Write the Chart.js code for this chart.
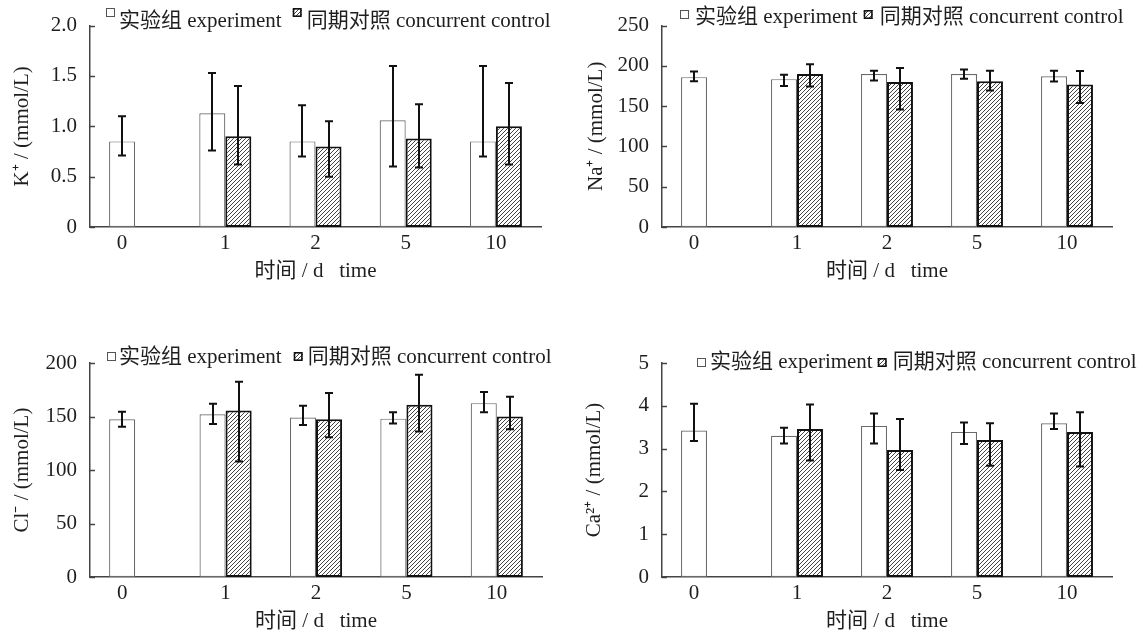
<!DOCTYPE html>
<html><head><meta charset="utf-8">
<script src="https://cdn.jsdelivr.net/npm/chart.js@4.4.0/dist/chart.umd.min.js"></script>
<style>
html,body{margin:0;padding:0;background:#fff;width:1143px;height:634px;overflow:hidden;}
.p{position:absolute;}
</style></head><body>
<div class="p" style="left:0;top:0;width:571px;height:317px"><canvas id="c1"></canvas></div>
<div class="p" style="left:571px;top:0;width:572px;height:317px"><canvas id="c2"></canvas></div>
<div class="p" style="left:0;top:317px;width:571px;height:317px"><canvas id="c3"></canvas></div>
<div class="p" style="left:571px;top:317px;width:572px;height:317px"><canvas id="c4"></canvas></div>
<script>
const categories = ['0', '1', '2', '5', '10'];
const legendExp = '实验组 experiment';
const legendCtl = '同期对照 concurrent control';
const xTitle = '时间 / d   time';

// K+ (mmol/L)
const kExpMean = [0.85, 1.13, 0.85, 1.06, 0.85];
const kExpLow  = [0.71, 0.76, 0.70, 0.60, 0.70];
const kExpHigh = [1.10, 1.53, 1.21, 1.60, 1.60];
const kCtlMean = [null, 0.90, 0.80, 0.88, 1.00];
const kCtlLow  = [null, 0.62, 0.50, 0.59, 0.62];
const kCtlHigh = [null, 1.40, 1.05, 1.22, 1.43];
const kTicks = ['0', '0.5', '1.0', '1.5', '2.0'];

// Na+ (mmol/L)
const naExpMean = [186, 183.5, 190, 190, 187];
const naExpLow  = [181, 175, 182, 184, 180.5];
const naExpHigh = [193, 189, 194, 195.5, 194];
const naCtlMean = [null, 190, 180, 181, 177];
const naCtlLow  = [null, 174.5, 146, 169.5, 154];
const naCtlHigh = [null, 202, 197.5, 194, 193.5];
const naTicks = ['0', '50', '100', '150', '200', '250'];

// Cl- (mmol/L)
const clExpMean = [147.5, 152, 149, 148, 162.5];
const clExpLow  = [140.5, 143, 142, 143.5, 154];
const clExpHigh = [154.5, 162, 160, 154, 173];
const clCtlMean = [null, 155.5, 147.5, 161, 150];
const clCtlLow  = [null, 108, 130.5, 136, 138];
const clCtlHigh = [null, 182.5, 172, 189, 168.5];
const clTicks = ['0', '50', '100', '150', '200'];

// Ca2+ (mmol/L)
const caExpMean = [3.42, 3.30, 3.53, 3.39, 3.59];
const caExpLow  = [3.18, 3.12, 3.12, 3.11, 3.46];
const caExpHigh = [4.05, 3.49, 3.82, 3.61, 3.82];
const caCtlMean = [null, 3.46, 2.97, 3.20, 3.39];
const caCtlLow  = [null, 2.72, 2.50, 2.60, 2.58];
const caCtlHigh = [null, 4.03, 3.69, 3.59, 3.85];
const caTicks = ['0', '1', '2', '3', '4', '5'];

const FONT = '"Liberation Serif", "Noto Sans CJK SC", serif';
const TEXT = '#1e1e1e';
const AXIS = '#444';

function makeHatch() {
  const s = 4;
  const c = document.createElement('canvas'); c.width = s; c.height = s;
  const g = c.getContext('2d');
  g.fillStyle = '#fff'; g.fillRect(0, 0, s, s);
  g.strokeStyle = '#444'; g.lineWidth = 1;
  g.beginPath();
  g.moveTo(0, s); g.lineTo(s, 0);
  g.moveTo(-1, 1); g.lineTo(1, -1);
  g.moveTo(s - 1, s + 1); g.lineTo(s + 1, s - 1);
  g.stroke();
  return g.createPattern(c, 'repeat');
}
const hatch = makeHatch();

const panels = [
  { id: 'c1', W: 571, H: 317, area: { l: 90, r: 541, t: 25, b: 227 }, max: 2, step: 0.5, ticks: kTicks,
    exp: kExpMean, expLo: kExpLow, expHi: kExpHigh, ctl: kCtlMean, ctlLo: kCtlLow, ctlHi: kCtlHigh,
    yTitle: 'K⁺ / (mmol/L)', yTitleX: 22,
    leg: { x: 106, y: 21, boxTop: 8, gap0: 4, gap1: 11, gap2: 5 } },
  { id: 'c2', W: 572, H: 317, area: { l: 91, r: 541, t: 25, b: 227 }, max: 250, step: 50, ticks: naTicks,
    exp: naExpMean, expLo: naExpLow, expHi: naExpHigh, ctl: naCtlMean, ctlLo: naCtlLow, ctlHi: naCtlHigh,
    yTitle: 'Na⁺ / (mmol/L)', yTitleX: 25,
    leg: { x: 109, y: 17, boxTop: 10, gap0: 6, gap1: 6, gap2: 7 } },
  { id: 'c3', W: 571, H: 317, area: { l: 90, r: 542, t: 46, b: 260 }, max: 200, step: 50, ticks: clTicks,
    exp: clExpMean, expLo: clExpLow, expHi: clExpHigh, ctl: clCtlMean, ctlLo: clCtlLow, ctlHi: clCtlHigh,
    yTitle: 'Cl⁻ / (mmol/L)', yTitleX: 22,
    leg: { x: 107, y: 40, boxTop: 35, gap0: 3, gap1: 12, gap2: 5 } },
  { id: 'c4', W: 572, H: 317, area: { l: 91, r: 541, t: 46, b: 260 }, max: 5, step: 1, ticks: caTicks,
    exp: caExpMean, expLo: caExpLow, expHi: caExpHigh, ctl: caCtlMean, ctlLo: caCtlLow, ctlHi: caCtlHigh,
    yTitle: 'Ca²⁺ / (mmol/L)', yTitleX: 23,
    leg: { x: 126, y: 45, boxTop: 41, gap0: 4, gap1: 5, gap2: 6 } }
];

function overlayPlugin(p) {
  return {
    id: 'overlay_' + p.id,
    afterDatasetsDraw(chart) {
      const ctx = chart.ctx;
      const ys = chart.scales.y, xs = chart.scales.x;
      const a = chart.chartArea;
      ctx.save();
      // inward y ticks
      ctx.strokeStyle = AXIS; ctx.lineWidth = 1.5;
      ys.ticks.forEach(t => {
        const y = Math.round(ys.getPixelForValue(t.value)) + 0.5;
        ctx.beginPath(); ctx.moveTo(a.left, y); ctx.lineTo(a.left + 5, y); ctx.stroke();
      });
      // error bars
      ctx.strokeStyle = '#111'; ctx.lineWidth = 2;
      [[0, p.expLo, p.expHi], [1, p.ctlLo, p.ctlHi]].forEach(([di, lo, hi]) => {
        const meta = chart.getDatasetMeta(di);
        meta.data.forEach((el, i) => {
          if (lo[i] == null || hi[i] == null) return;
          const x = Math.round(el.x);
          const y1 = ys.getPixelForValue(hi[i]), y2 = ys.getPixelForValue(lo[i]);
          ctx.beginPath();
          ctx.moveTo(x, y1); ctx.lineTo(x, y2);
          ctx.moveTo(x - 4, y1); ctx.lineTo(x + 4, y1);
          ctx.moveTo(x - 4, y2); ctx.lineTo(x + 4, y2);
          ctx.stroke();
        });
      });
      // x tick labels
      ctx.fillStyle = TEXT;
      ctx.font = '21px ' + FONT;
      ctx.textAlign = 'center'; ctx.textBaseline = 'middle';
      const m0 = chart.getDatasetMeta(0);
      categories.forEach((c, i) => {
        const x = (p.ctl[i] == null) ? m0.data[i].x : xs.getPixelForValue(i);
        ctx.fillText(c, x, a.bottom + 16);
      });
      // x title
      ctx.font = '21px ' + FONT;
      ctx.fillText(xTitle, (a.left + a.right) / 2, a.bottom + 44);
      // y title
      ctx.save();
      ctx.translate(p.yTitleX, (a.top + a.bottom) / 2);
      ctx.rotate(-Math.PI / 2);
      ctx.font = '21px ' + FONT;
      ctx.fillText(p.yTitle, 0, 0);
      ctx.restore();
      // legend
      const L = p.leg, bs = 9;
      ctx.font = '21px ' + FONT;
      ctx.textAlign = 'left';
      let x = L.x;
      ctx.fillStyle = '#fff'; ctx.fillRect(x, L.boxTop, bs, bs);
      ctx.strokeStyle = '#555'; ctx.lineWidth = 1;
      ctx.strokeRect(x + 0.5, L.boxTop + 0.5, bs - 1, bs - 1);
      x += bs + L.gap0;
      ctx.fillStyle = TEXT; ctx.fillText(legendExp, x, L.y);
      x += ctx.measureText(legendExp).width + L.gap1;
      ctx.fillStyle = hatch; ctx.fillRect(x, L.boxTop, bs, bs);
      ctx.strokeStyle = '#111'; ctx.lineWidth = 1.6;
      ctx.strokeRect(x + 0.8, L.boxTop + 0.8, bs - 1.6, bs - 1.6);
      x += bs + L.gap2;
      ctx.fillStyle = TEXT; ctx.fillText(legendCtl, x, L.y);
      ctx.restore();
    }
  };
}

panels.forEach(p => {
  new Chart(document.getElementById(p.id), {
    type: 'bar',
    data: {
      labels: categories,
      datasets: [
        { label: legendExp, data: p.exp, backgroundColor: '#ffffff', borderColor: '#6a6a6a', borderWidth: 1.2, borderSkipped: false },
        { label: legendCtl, data: p.ctl, backgroundColor: hatch, borderColor: '#111', borderWidth: 2, borderSkipped: false }
      ]
    },
    options: {
      responsive: true, maintainAspectRatio: false, animation: false,
      devicePixelRatio: 1,
      categoryPercentage: 0.577, barPercentage: 1.0,
      layout: { padding: { left: 0, top: p.area.t, right: p.W - p.area.r, bottom: 0 } },
      plugins: { legend: { display: false }, title: { display: false }, tooltip: { enabled: false } },
      scales: {
        x: {
          type: 'category', offset: true,
          grid: { display: false, drawTicks: false },
          border: { display: true, color: AXIS, width: 1.5 },
          ticks: { display: false },
          afterFit(s) { s.height = p.H - p.area.b; }
        },
        y: {
          min: 0, max: p.max,
          grid: { display: false, drawTicks: false },
          border: { display: true, color: AXIS, width: 1.5 },
          ticks: { stepSize: p.step, padding: 13, color: TEXT, font: { family: FONT, size: 21 },
                   callback: (v, i) => p.ticks[i] },
          afterFit(s) { s.width = p.area.l; }
        }
      }
    },
    plugins: [overlayPlugin(p)]
  });
});
</script>
</body></html>
